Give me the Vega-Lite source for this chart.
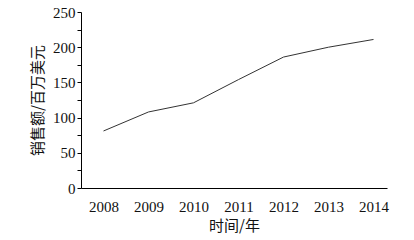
{
  "$schema": "https://vega.github.io/schema/vega-lite/v6.json",
  "width": 306,
  "height": 176,
  "autosize": {"type": "none"},
  "padding": {"left": 81, "top": 12, "right": 27, "bottom": 52},
  "background": "white",
  "config": {
    "view": {"stroke": null},
    "axis": {
      "domainColor": "#000",
      "tickColor": "#000",
      "labelColor": "#111",
      "titleColor": "#111",
      "labelFont": "Liberation Serif",
      "labelFontSize": 15,
      "titleFont": "Noto Sans CJK SC",
      "titleFontSize": 15,
      "titleFontWeight": "normal",
      "grid": false
    }
  },
  "data": {
    "values": [
      {"year": 2008, "sales": 81},
      {"year": 2009, "sales": 108},
      {"year": 2010, "sales": 121},
      {"year": 2011, "sales": 154},
      {"year": 2012, "sales": 186},
      {"year": 2013, "sales": 200},
      {"year": 2014, "sales": 211}
    ]
  },
  "mark": {"type": "line", "color": "#333", "strokeWidth": 1},
  "encoding": {
    "x": {
      "field": "year",
      "type": "quantitative",
      "scale": {"domain": [2007.5, 2014.3], "nice": false, "zero": false},
      "axis": {
        "title": "时间/年",
        "values": [2008, 2008.5, 2009, 2009.5, 2010, 2010.5, 2011, 2011.5, 2012, 2012.5, 2013, 2013.5, 2014],
        "format": "d",
        "labelExpr": "datum.value % 1 == 0 ? datum.label : ''",
        "tickOpacity": {"condition": {"test": "datum.value % 1 == 0", "value": 0}, "value": 1},
        "tickSize": 5,
        "labelPadding": 6,
        "labelFlush": false,
        "labelOverlap": false,
        "titlePadding": 4
      }
    },
    "y": {
      "field": "sales",
      "type": "quantitative",
      "scale": {"domain": [0, 250], "nice": false},
      "axis": {
        "title": "销售额/百万美元",
        "values": [0, 25, 50, 75, 100, 125, 150, 175, 200, 225, 250],
        "labelExpr": "datum.value % 50 == 0 ? datum.label : ''",
        "tickSize": 4,
        "labelPadding": 2,
        "labelFlush": false,
        "labelOverlap": false,
        "titlePadding": 7
      }
    }
  }
}
